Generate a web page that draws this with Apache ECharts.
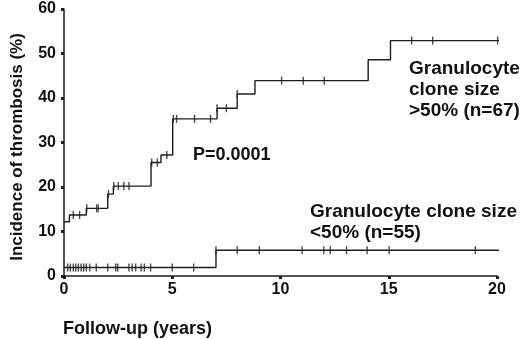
<!DOCTYPE html>
<html>
<head>
<meta charset="utf-8">
<script src="https://cdn.jsdelivr.net/npm/echarts@6/dist/echarts.min.js"></script>
<style>html,body{margin:0;padding:0;background:#fff;}#c{width:520px;height:339px;}</style>
</head>
<body>
<div id="c"></div>
<script>
// Kaplan-Meier step data, group with granulocyte clone size >50% (n=67)
var upperX = [0, 0.25, 1.03, 2.02, 2.28, 4.02, 4.48, 5.02, 7.07, 8.0, 8.82, 14.05, 15.08, 20.9];
var upperY = [12.2, 13.7, 15.2, 18.4, 20.2, 25.5, 27.2, 35.3, 37.7, 40.9, 43.9, 48.6, 52.9, 52.9];
var upperCensor = [0.43, 0.72, 1.05, 1.51, 1.58, 2.05, 2.3, 2.51, 2.76, 3.0, 4.05, 4.31, 4.75,
                   5.05, 5.2, 6.03, 6.77, 7.07, 7.5, 8.0, 10.05, 11.05, 12.02, 16.06, 17.03, 20.03];
// group with granulocyte clone size <50% (n=55)
var lowerX = [0, 7.02, 20.83];
var lowerY = [1.9, 5.8, 5.8];
var lowerCensor = [0.17, 0.29, 0.43, 0.54, 0.66, 0.79, 0.91, 1.03, 1.19, 1.49, 2.02, 2.39, 2.48,
                   3.0, 3.15, 3.31, 3.56, 3.71, 4.0, 5.0, 5.99,
                   7.02, 8.0, 9.02, 11.0, 12.0, 12.3, 13.05, 14.0, 15.02, 19.0];
var xTicks = [0, 5, 10, 15, 20];
var yTicks = [0, 10, 20, 30, 40, 50, 60];

function pairs(xs, ys) { return xs.map(function (x, i) { return [x, ys[i]]; }); }
function levelAt(xs, ys, c) {
  var v = ys[0];
  for (var i = 0; i < xs.length; i++) { if (xs[i] <= c) v = ys[i]; }
  return v;
}
function censorPts(xs, ys, cs) { return cs.map(function (c) { return [c, levelAt(xs, ys, c)]; }); }

var FONT = '"Liberation Sans", Arial, sans-serif';
var INK = '#1e1e1e';
var chart = echarts.init(document.getElementById('c'), null, { renderer: 'canvas' });
chart.setOption({
  animation: false,
  backgroundColor: '#fff',
  grid: { left: 64, right: 23, top: 9, bottom: 63 },
  xAxis: {
    type: 'value', min: 0, max: 20, interval: 5,
    axisLine: { show: true, lineStyle: { color: INK, width: 1.5 } },
    axisTick: { show: true, length: 3, lineStyle: { color: INK, width: 3 } },
    axisLabel: { color: '#111', fontFamily: FONT, fontWeight: 'bold', fontSize: 16, margin: 6,
      formatter: function (v) { return xTicks.indexOf(v) >= 0 ? String(v) : ''; } },
    splitLine: { show: false }
  },
  yAxis: {
    type: 'value', min: 0, max: 60, interval: 10,
    axisLine: { show: true, lineStyle: { color: INK, width: 1.5 } },
    axisTick: { show: true, length: 3, lineStyle: { color: INK, width: 3 } },
    axisLabel: { color: '#111', fontFamily: FONT, fontWeight: 'bold', fontSize: 16, margin: 8,
      formatter: function (v) { return yTicks.indexOf(v) >= 0 ? String(v) : ''; } },
    splitLine: { show: false }
  },
  series: [
    { type: 'line', step: 'end', data: pairs(upperX, upperY), showSymbol: false, clip: false,
      lineStyle: { color: INK, width: 1.4 } },
    { type: 'line', step: 'end', data: pairs(lowerX, lowerY), showSymbol: false, clip: false,
      lineStyle: { color: INK, width: 1.4 } },
    { type: 'scatter', data: censorPts(upperX, upperY, upperCensor), symbol: 'rect', symbolSize: [1.4, 8],
      clip: false, itemStyle: { color: INK } },
    { type: 'scatter', data: censorPts(lowerX, lowerY, lowerCensor), symbol: 'rect', symbolSize: [1.4, 8],
      clip: false, itemStyle: { color: INK } }
  ],
  graphic: [
    { type: 'text', x: 17, y: 147, rotation: Math.PI / 2,
      style: { text: 'Incidence of thrombosis (%)', font: 'bold 17px ' + FONT, fill: '#111',
        textAlign: 'center', textVerticalAlign: 'middle' } },
    { type: 'text', x: 63, y: 329,
      style: { text: 'Follow-up (years)', font: 'bold 18px ' + FONT, fill: '#111',
        textAlign: 'left', textVerticalAlign: 'middle' } },
    { type: 'text', x: 193, y: 155,
      style: { text: 'P=0.0001', font: 'bold 18px ' + FONT, fill: '#111',
        textAlign: 'left', textVerticalAlign: 'middle' } },
    { type: 'text', x: 409, y: 58,
      style: { text: 'Granulocyte\nclone size\n>50% (n=67)', font: 'bold 19px ' + FONT, fill: '#111',
        lineHeight: 21, textAlign: 'left', textVerticalAlign: 'top' } },
    { type: 'text', x: 310, y: 201,
      style: { text: 'Granulocyte clone size\n<50% (n=55)', font: 'bold 19px ' + FONT, fill: '#111',
        lineHeight: 21, textAlign: 'left', textVerticalAlign: 'top' } }
  ]
});
</script>
</body>
</html>
